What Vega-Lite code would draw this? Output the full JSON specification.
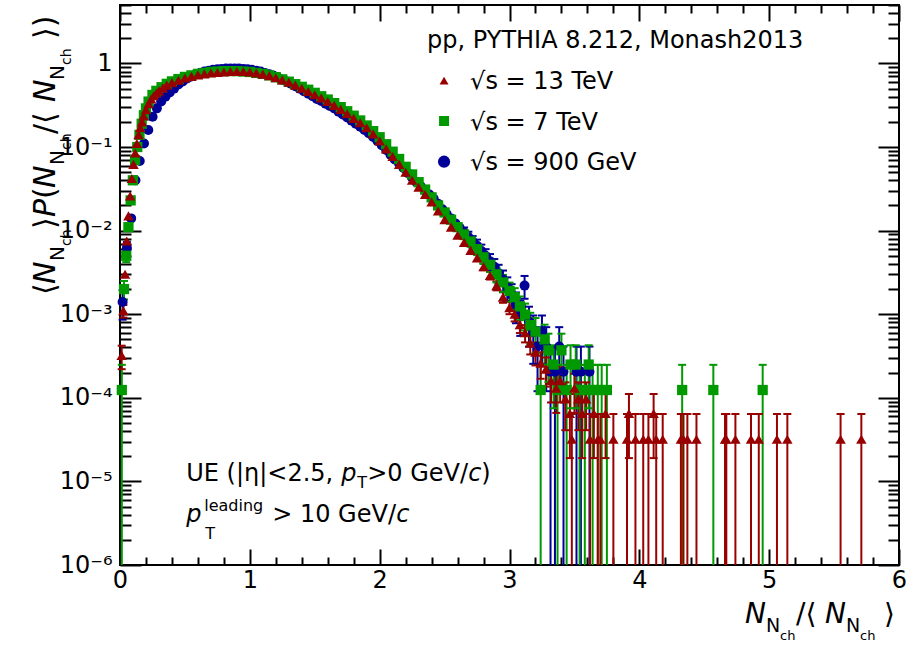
{
"$schema":"https://vega.github.io/schema/vega-lite/v6.json",
"width":779,"height":560,
"autosize":{"type":"none"},
"padding":{"left":120,"top":5,"right":10,"bottom":81},
"background":"white",
"config":{"font":"DejaVu Sans","view":{"stroke":"black","strokeWidth":2},"axis":{"domain":false,"grid":false,"tickColor":"black","labelColor":"black","tickWidth":2}},
"data":{"values":[
{"energy":"900 GeV","x":0.020,"y":1.4e-3,"lo":8.6e-4,"hi":1.94e-3},
{"energy":"900 GeV","x":0.053,"y":6.2e-3,"lo":5.1e-3,"hi":7.3e-3},
{"energy":"900 GeV","x":0.086,"y":0.014},
{"energy":"900 GeV","x":0.119,"y":0.040},
{"energy":"900 GeV","x":0.152,"y":0.068},
{"energy":"900 GeV","x":0.185,"y":0.11},
{"energy":"900 GeV","x":0.218,"y":0.16},
{"energy":"900 GeV","x":0.251,"y":0.23},
{"energy":"900 GeV","x":0.284,"y":0.29},
{"energy":"900 GeV","x":0.317,"y":0.35},
{"energy":"900 GeV","x":0.350,"y":0.40},
{"energy":"900 GeV","x":0.383,"y":0.45},
{"energy":"900 GeV","x":0.416,"y":0.50},
{"energy":"900 GeV","x":0.450,"y":0.56},
{"energy":"900 GeV","x":0.483,"y":0.61},
{"energy":"900 GeV","x":0.516,"y":0.66},
{"energy":"900 GeV","x":0.550,"y":0.70},
{"energy":"900 GeV","x":0.583,"y":0.74},
{"energy":"900 GeV","x":0.616,"y":0.77},
{"energy":"900 GeV","x":0.650,"y":0.80},
{"energy":"900 GeV","x":0.683,"y":0.82},
{"energy":"900 GeV","x":0.716,"y":0.84},
{"energy":"900 GeV","x":0.750,"y":0.85},
{"energy":"900 GeV","x":0.783,"y":0.86},
{"energy":"900 GeV","x":0.816,"y":0.87},
{"energy":"900 GeV","x":0.850,"y":0.87},
{"energy":"900 GeV","x":0.883,"y":0.87},
{"energy":"900 GeV","x":0.916,"y":0.87},
{"energy":"900 GeV","x":0.950,"y":0.86},
{"energy":"900 GeV","x":0.983,"y":0.85},
{"energy":"900 GeV","x":1.016,"y":0.84},
{"energy":"900 GeV","x":1.050,"y":0.82},
{"energy":"900 GeV","x":1.083,"y":0.80},
{"energy":"900 GeV","x":1.116,"y":0.77},
{"energy":"900 GeV","x":1.150,"y":0.74},
{"energy":"900 GeV","x":1.183,"y":0.71},
{"energy":"900 GeV","x":1.216,"y":0.68},
{"energy":"900 GeV","x":1.250,"y":0.64},
{"energy":"900 GeV","x":1.283,"y":0.61},
{"energy":"900 GeV","x":1.316,"y":0.57},
{"energy":"900 GeV","x":1.350,"y":0.535},
{"energy":"900 GeV","x":1.383,"y":0.50},
{"energy":"900 GeV","x":1.416,"y":0.465},
{"energy":"900 GeV","x":1.450,"y":0.435},
{"energy":"900 GeV","x":1.483,"y":0.405},
{"energy":"900 GeV","x":1.516,"y":0.375},
{"energy":"900 GeV","x":1.550,"y":0.355},
{"energy":"900 GeV","x":1.583,"y":0.33},
{"energy":"900 GeV","x":1.616,"y":0.31},
{"energy":"900 GeV","x":1.650,"y":0.29},
{"energy":"900 GeV","x":1.683,"y":0.265},
{"energy":"900 GeV","x":1.716,"y":0.245},
{"energy":"900 GeV","x":1.750,"y":0.225},
{"energy":"900 GeV","x":1.783,"y":0.207},
{"energy":"900 GeV","x":1.816,"y":0.19},
{"energy":"900 GeV","x":1.850,"y":0.175},
{"energy":"900 GeV","x":1.883,"y":0.16},
{"energy":"900 GeV","x":1.916,"y":0.146},
{"energy":"900 GeV","x":1.950,"y":0.132},
{"energy":"900 GeV","x":1.983,"y":0.118},
{"energy":"900 GeV","x":2.016,"y":0.105},
{"energy":"900 GeV","x":2.050,"y":0.092},
{"energy":"900 GeV","x":2.083,"y":0.081},
{"energy":"900 GeV","x":2.116,"y":0.071},
{"energy":"900 GeV","x":2.150,"y":0.063},
{"energy":"900 GeV","x":2.183,"y":0.056},
{"energy":"900 GeV","x":2.216,"y":0.049},
{"energy":"900 GeV","x":2.250,"y":0.043},
{"energy":"900 GeV","x":2.283,"y":0.038},
{"energy":"900 GeV","x":2.316,"y":0.034},
{"energy":"900 GeV","x":2.350,"y":0.030},
{"energy":"900 GeV","x":2.383,"y":0.027},
{"energy":"900 GeV","x":2.416,"y":0.024},
{"energy":"900 GeV","x":2.450,"y":0.021},
{"energy":"900 GeV","x":2.483,"y":0.018},
{"energy":"900 GeV","x":2.516,"y":0.0158},
{"energy":"900 GeV","x":2.550,"y":0.014},
{"energy":"900 GeV","x":2.583,"y":0.0122},
{"energy":"900 GeV","x":2.616,"y":0.0108},
{"energy":"900 GeV","x":2.650,"y":0.0095,"lo":0.0081,"hi":0.0109},
{"energy":"900 GeV","x":2.683,"y":0.0084,"lo":0.0071,"hi":0.0097},
{"energy":"900 GeV","x":2.716,"y":0.0074,"lo":0.0062,"hi":0.0086},
{"energy":"900 GeV","x":2.750,"y":0.0066,"lo":0.0054,"hi":0.0078},
{"energy":"900 GeV","x":2.783,"y":0.0057,"lo":0.0046,"hi":0.0068},
{"energy":"900 GeV","x":2.816,"y":0.0050,"lo":0.0040,"hi":0.0060},
{"energy":"900 GeV","x":2.850,"y":0.0043,"lo":0.00336,"hi":0.00524},
{"energy":"900 GeV","x":2.883,"y":0.0037,"lo":0.00283,"hi":0.00457},
{"energy":"900 GeV","x":2.916,"y":0.0031,"lo":0.0023,"hi":0.0039},
{"energy":"900 GeV","x":2.950,"y":0.0026,"lo":0.00187,"hi":0.00333},
{"energy":"900 GeV","x":2.983,"y":0.0021,"lo":0.00144,"hi":0.00276},
{"energy":"900 GeV","x":3.016,"y":0.0017,"lo":0.00111,"hi":0.00229},
{"energy":"900 GeV","x":3.050,"y":0.0013,"lo":0.00078,"hi":0.00182},
{"energy":"900 GeV","x":3.083,"y":0.0010,"lo":0.00055,"hi":0.00145},
{"energy":"900 GeV","x":3.116,"y":0.0022,"lo":0.00153,"hi":0.00287},
{"energy":"900 GeV","x":3.150,"y":8.2e-4,"lo":4.1e-4,"hi":1.23e-3},
{"energy":"900 GeV","x":3.183,"y":6.1e-4,"lo":2.55e-4,"hi":9.65e-4},
{"energy":"900 GeV","x":3.216,"y":4.1e-4,"lo":1.2e-4,"hi":7.0e-4},
{"energy":"900 GeV","x":3.250,"y":6.1e-4,"lo":2.55e-4,"hi":9.65e-4},
{"energy":"900 GeV","x":3.283,"y":4.1e-4,"lo":1.2e-4,"hi":7.0e-4},
{"energy":"900 GeV","x":3.316,"y":2.05e-4,"lo":1e-7,"hi":4.1e-4},
{"energy":"900 GeV","x":3.350,"y":2.05e-4,"lo":1e-7,"hi":4.1e-4},
{"energy":"900 GeV","x":3.383,"y":4.1e-4,"lo":1.2e-4,"hi":7.0e-4},
{"energy":"900 GeV","x":3.416,"y":2.05e-4,"lo":1e-7,"hi":4.1e-4},
{"energy":"900 GeV","x":3.516,"y":2.05e-4,"lo":1e-7,"hi":4.1e-4},
{"energy":"900 GeV","x":3.550,"y":2.05e-4,"lo":1e-7,"hi":4.1e-4},
{"energy":"900 GeV","x":3.616,"y":2.05e-4,"lo":1e-7,"hi":4.1e-4},
{"energy":"7 TeV","x":0.014,"y":1.24e-4,"lo":1e-7,"hi":2.48e-4},
{"energy":"7 TeV","x":0.031,"y":2.0e-3,"lo":1.5e-3,"hi":2.5e-3},
{"energy":"7 TeV","x":0.048,"y":5.0e-3,"lo":4.2e-3,"hi":5.8e-3},
{"energy":"7 TeV","x":0.065,"y":0.011},
{"energy":"7 TeV","x":0.082,"y":0.023},
{"energy":"7 TeV","x":0.099,"y":0.040},
{"energy":"7 TeV","x":0.116,"y":0.070},
{"energy":"7 TeV","x":0.133,"y":0.10},
{"energy":"7 TeV","x":0.150,"y":0.14},
{"energy":"7 TeV","x":0.167,"y":0.19},
{"energy":"7 TeV","x":0.184,"y":0.24},
{"energy":"7 TeV","x":0.20,"y":0.29},
{"energy":"7 TeV","x":0.22,"y":0.35},
{"energy":"7 TeV","x":0.25,"y":0.42},
{"energy":"7 TeV","x":0.28,"y":0.47},
{"energy":"7 TeV","x":0.32,"y":0.52},
{"energy":"7 TeV","x":0.36,"y":0.57},
{"energy":"7 TeV","x":0.40,"y":0.61},
{"energy":"7 TeV","x":0.45,"y":0.65},
{"energy":"7 TeV","x":0.50,"y":0.69},
{"energy":"7 TeV","x":0.55,"y":0.72},
{"energy":"7 TeV","x":0.60,"y":0.75},
{"energy":"7 TeV","x":0.65,"y":0.77},
{"energy":"7 TeV","x":0.70,"y":0.79},
{"energy":"7 TeV","x":0.75,"y":0.80},
{"energy":"7 TeV","x":0.80,"y":0.81},
{"energy":"7 TeV","x":0.85,"y":0.81},
{"energy":"7 TeV","x":0.90,"y":0.81},
{"energy":"7 TeV","x":0.95,"y":0.80},
{"energy":"7 TeV","x":1.00,"y":0.79},
{"energy":"7 TeV","x":1.05,"y":0.77},
{"energy":"7 TeV","x":1.10,"y":0.75},
{"energy":"7 TeV","x":1.15,"y":0.72},
{"energy":"7 TeV","x":1.20,"y":0.685},
{"energy":"7 TeV","x":1.25,"y":0.645},
{"energy":"7 TeV","x":1.30,"y":0.605},
{"energy":"7 TeV","x":1.35,"y":0.565},
{"energy":"7 TeV","x":1.40,"y":0.525},
{"energy":"7 TeV","x":1.45,"y":0.485},
{"energy":"7 TeV","x":1.50,"y":0.445},
{"energy":"7 TeV","x":1.55,"y":0.405},
{"energy":"7 TeV","x":1.60,"y":0.37},
{"energy":"7 TeV","x":1.65,"y":0.335},
{"energy":"7 TeV","x":1.70,"y":0.30},
{"energy":"7 TeV","x":1.75,"y":0.268},
{"energy":"7 TeV","x":1.80,"y":0.237},
{"energy":"7 TeV","x":1.85,"y":0.208},
{"energy":"7 TeV","x":1.90,"y":0.181},
{"energy":"7 TeV","x":1.95,"y":0.155},
{"energy":"7 TeV","x":2.00,"y":0.131},
{"energy":"7 TeV","x":2.05,"y":0.108},
{"energy":"7 TeV","x":2.10,"y":0.088},
{"energy":"7 TeV","x":2.15,"y":0.072},
{"energy":"7 TeV","x":2.20,"y":0.058},
{"energy":"7 TeV","x":2.25,"y":0.047},
{"energy":"7 TeV","x":2.30,"y":0.038},
{"energy":"7 TeV","x":2.35,"y":0.031},
{"energy":"7 TeV","x":2.40,"y":0.025},
{"energy":"7 TeV","x":2.45,"y":0.020},
{"energy":"7 TeV","x":2.50,"y":0.0165},
{"energy":"7 TeV","x":2.55,"y":0.0135},
{"energy":"7 TeV","x":2.60,"y":0.011},
{"energy":"7 TeV","x":2.65,"y":0.009,"lo":0.0079,"hi":0.0101},
{"energy":"7 TeV","x":2.70,"y":0.0074,"lo":0.0064,"hi":0.0084},
{"energy":"7 TeV","x":2.75,"y":0.0060,"lo":0.0051,"hi":0.0069},
{"energy":"7 TeV","x":2.80,"y":0.0048,"lo":0.0040,"hi":0.0056},
{"energy":"7 TeV","x":2.85,"y":0.0039,"lo":0.0032,"hi":0.0046},
{"energy":"7 TeV","x":2.90,"y":0.0030,"lo":0.0024,"hi":0.0036},
{"energy":"7 TeV","x":2.95,"y":0.0024,"lo":0.00185,"hi":0.00295},
{"energy":"7 TeV","x":3.00,"y":0.0019,"lo":0.00141,"hi":0.00239},
{"energy":"7 TeV","x":3.04,"y":0.0016,"lo":0.00115,"hi":0.00205},
{"energy":"7 TeV","x":3.08,"y":0.00124,"lo":0.00085,"hi":0.00163},
{"energy":"7 TeV","x":3.12,"y":0.00099,"lo":0.00064,"hi":0.00134},
{"energy":"7 TeV","x":3.16,"y":7.4e-4,"lo":4.4e-4,"hi":1.04e-3},
{"energy":"7 TeV","x":3.20,"y":6.2e-4,"lo":3.4e-4,"hi":9.0e-4},
{"energy":"7 TeV","x":3.24,"y":1.24e-4,"lo":1e-7,"hi":2.48e-4},
{"energy":"7 TeV","x":3.27,"y":5.0e-4,"lo":2.5e-4,"hi":7.5e-4},
{"energy":"7 TeV","x":3.30,"y":3.7e-4,"lo":1.55e-4,"hi":5.85e-4},
{"energy":"7 TeV","x":3.34,"y":2.5e-4,"lo":7.5e-5,"hi":4.25e-4},
{"energy":"7 TeV","x":3.37,"y":1.24e-4,"lo":1e-7,"hi":2.48e-4},
{"energy":"7 TeV","x":3.40,"y":3.7e-4,"lo":1.55e-4,"hi":5.85e-4},
{"energy":"7 TeV","x":3.44,"y":1.24e-4,"lo":1e-7,"hi":2.48e-4},
{"energy":"7 TeV","x":3.47,"y":2.5e-4,"lo":7.5e-5,"hi":4.25e-4},
{"energy":"7 TeV","x":3.51,"y":2.5e-4,"lo":7.5e-5,"hi":4.25e-4},
{"energy":"7 TeV","x":3.54,"y":1.24e-4,"lo":1e-7,"hi":2.48e-4},
{"energy":"7 TeV","x":3.58,"y":1.24e-4,"lo":1e-7,"hi":2.48e-4},
{"energy":"7 TeV","x":3.61,"y":2.5e-4,"lo":7.5e-5,"hi":4.25e-4},
{"energy":"7 TeV","x":3.64,"y":1.24e-4,"lo":1e-7,"hi":2.48e-4},
{"energy":"7 TeV","x":3.68,"y":1.24e-4,"lo":1e-7,"hi":2.48e-4},
{"energy":"7 TeV","x":3.71,"y":1.24e-4,"lo":1e-7,"hi":2.48e-4},
{"energy":"7 TeV","x":3.75,"y":1.24e-4,"lo":1e-7,"hi":2.48e-4},
{"energy":"7 TeV","x":4.33,"y":1.24e-4,"lo":1e-7,"hi":2.48e-4},
{"energy":"7 TeV","x":4.57,"y":1.24e-4,"lo":1e-7,"hi":2.48e-4},
{"energy":"7 TeV","x":4.95,"y":1.24e-4,"lo":1e-7,"hi":2.48e-4},
{"energy":"13 TeV","x":0.013,"y":3.2e-4,"lo":2.2e-4,"hi":4.2e-4},
{"energy":"13 TeV","x":0.026,"y":1.1e-3,"lo":9.1e-4,"hi":1.29e-3},
{"energy":"13 TeV","x":0.039,"y":3.0e-3},
{"energy":"13 TeV","x":0.052,"y":7.5e-3},
{"energy":"13 TeV","x":0.065,"y":0.015},
{"energy":"13 TeV","x":0.078,"y":0.026},
{"energy":"13 TeV","x":0.091,"y":0.042},
{"energy":"13 TeV","x":0.104,"y":0.062},
{"energy":"13 TeV","x":0.117,"y":0.085},
{"energy":"13 TeV","x":0.130,"y":0.11},
{"energy":"13 TeV","x":0.143,"y":0.14},
{"energy":"13 TeV","x":0.156,"y":0.17},
{"energy":"13 TeV","x":0.169,"y":0.20},
{"energy":"13 TeV","x":0.182,"y":0.235},
{"energy":"13 TeV","x":0.20,"y":0.28},
{"energy":"13 TeV","x":0.22,"y":0.33},
{"energy":"13 TeV","x":0.24,"y":0.375},
{"energy":"13 TeV","x":0.26,"y":0.41},
{"energy":"13 TeV","x":0.28,"y":0.44},
{"energy":"13 TeV","x":0.30,"y":0.47},
{"energy":"13 TeV","x":0.33,"y":0.51},
{"energy":"13 TeV","x":0.36,"y":0.55},
{"energy":"13 TeV","x":0.40,"y":0.59},
{"energy":"13 TeV","x":0.45,"y":0.63},
{"energy":"13 TeV","x":0.50,"y":0.67},
{"energy":"13 TeV","x":0.55,"y":0.70},
{"energy":"13 TeV","x":0.60,"y":0.73},
{"energy":"13 TeV","x":0.65,"y":0.75},
{"energy":"13 TeV","x":0.70,"y":0.77},
{"energy":"13 TeV","x":0.75,"y":0.78},
{"energy":"13 TeV","x":0.80,"y":0.79},
{"energy":"13 TeV","x":0.85,"y":0.80},
{"energy":"13 TeV","x":0.90,"y":0.80},
{"energy":"13 TeV","x":0.95,"y":0.80},
{"energy":"13 TeV","x":1.00,"y":0.79},
{"energy":"13 TeV","x":1.05,"y":0.77},
{"energy":"13 TeV","x":1.10,"y":0.745},
{"energy":"13 TeV","x":1.15,"y":0.715},
{"energy":"13 TeV","x":1.20,"y":0.675},
{"energy":"13 TeV","x":1.25,"y":0.635},
{"energy":"13 TeV","x":1.30,"y":0.595},
{"energy":"13 TeV","x":1.35,"y":0.55},
{"energy":"13 TeV","x":1.40,"y":0.505},
{"energy":"13 TeV","x":1.45,"y":0.462},
{"energy":"13 TeV","x":1.50,"y":0.422},
{"energy":"13 TeV","x":1.55,"y":0.385},
{"energy":"13 TeV","x":1.60,"y":0.35},
{"energy":"13 TeV","x":1.65,"y":0.315},
{"energy":"13 TeV","x":1.70,"y":0.282},
{"energy":"13 TeV","x":1.75,"y":0.25},
{"energy":"13 TeV","x":1.80,"y":0.22},
{"energy":"13 TeV","x":1.85,"y":0.195},
{"energy":"13 TeV","x":1.90,"y":0.17},
{"energy":"13 TeV","x":1.95,"y":0.143},
{"energy":"13 TeV","x":2.00,"y":0.118},
{"energy":"13 TeV","x":2.05,"y":0.095},
{"energy":"13 TeV","x":2.10,"y":0.077},
{"energy":"13 TeV","x":2.15,"y":0.062},
{"energy":"13 TeV","x":2.20,"y":0.050},
{"energy":"13 TeV","x":2.25,"y":0.040},
{"energy":"13 TeV","x":2.30,"y":0.033},
{"energy":"13 TeV","x":2.35,"y":0.027},
{"energy":"13 TeV","x":2.40,"y":0.022},
{"energy":"13 TeV","x":2.45,"y":0.0172},
{"energy":"13 TeV","x":2.50,"y":0.0135},
{"energy":"13 TeV","x":2.55,"y":0.011},
{"energy":"13 TeV","x":2.60,"y":0.0088},
{"energy":"13 TeV","x":2.65,"y":0.0072},
{"energy":"13 TeV","x":2.70,"y":0.0058},
{"energy":"13 TeV","x":2.75,"y":0.0047},
{"energy":"13 TeV","x":2.80,"y":0.0037,"lo":0.00336,"hi":0.00404},
{"energy":"13 TeV","x":2.85,"y":0.0029,"lo":0.0026,"hi":0.0032},
{"energy":"13 TeV","x":2.90,"y":0.0022,"lo":0.00193,"hi":0.00247},
{"energy":"13 TeV","x":2.95,"y":0.0016,"lo":0.00137,"hi":0.00183},
{"energy":"13 TeV","x":3.00,"y":0.0012,"lo":0.0010,"hi":0.0014},
{"energy":"13 TeV","x":3.04,"y":0.0010,"lo":0.00082,"hi":0.00118},
{"energy":"13 TeV","x":3.08,"y":7.5e-4,"lo":5.95e-4,"hi":9.05e-4},
{"energy":"13 TeV","x":3.12,"y":6.0e-4,"lo":4.6e-4,"hi":7.4e-4},
{"energy":"13 TeV","x":3.16,"y":4.5e-4,"lo":3.3e-4,"hi":5.7e-4},
{"energy":"13 TeV","x":3.20,"y":3.5e-4,"lo":2.44e-4,"hi":4.56e-4},
{"energy":"13 TeV","x":3.24,"y":2.6e-4,"lo":1.69e-4,"hi":3.51e-4},
{"energy":"13 TeV","x":3.28,"y":2.2e-4,"lo":1.36e-4,"hi":3.04e-4},
{"energy":"13 TeV","x":3.32,"y":1.6e-4,"lo":8.8e-5,"hi":2.32e-4},
{"energy":"13 TeV","x":3.36,"y":1.3e-4,"lo":6.6e-5,"hi":1.94e-4},
{"energy":"13 TeV","x":3.39,"y":1.6e-4,"lo":8.8e-5,"hi":2.32e-4},
{"energy":"13 TeV","x":3.43,"y":9.7e-5,"lo":4.1e-5,"hi":1.53e-4},
{"energy":"13 TeV","x":3.465,"y":6.5e-5,"lo":1.9e-5,"hi":1.11e-4},
{"energy":"13 TeV","x":3.48,"y":3.2e-5,"lo":1e-7,"hi":6.4e-5},
{"energy":"13 TeV","x":3.50,"y":1.3e-4,"lo":6.6e-5,"hi":1.94e-4},
{"energy":"13 TeV","x":3.53,"y":9.7e-5,"lo":4.1e-5,"hi":1.53e-4},
{"energy":"13 TeV","x":3.56,"y":6.5e-5,"lo":1.9e-5,"hi":1.11e-4},
{"energy":"13 TeV","x":3.59,"y":9.7e-5,"lo":4.1e-5,"hi":1.53e-4},
{"energy":"13 TeV","x":3.62,"y":3.2e-5,"lo":1e-7,"hi":6.4e-5},
{"energy":"13 TeV","x":3.65,"y":6.5e-5,"lo":1.9e-5,"hi":1.11e-4},
{"energy":"13 TeV","x":3.68,"y":3.2e-5,"lo":1e-7,"hi":6.4e-5},
{"energy":"13 TeV","x":3.70,"y":3.2e-5,"lo":1e-7,"hi":6.4e-5},
{"energy":"13 TeV","x":3.74,"y":6.5e-5,"lo":1.9e-5,"hi":1.11e-4},
{"energy":"13 TeV","x":3.80,"y":3.2e-5,"lo":1e-7,"hi":6.4e-5},
{"energy":"13 TeV","x":3.905,"y":3.2e-5,"lo":1e-7,"hi":6.4e-5},
{"energy":"13 TeV","x":3.92,"y":6.5e-5,"lo":1.9e-5,"hi":1.11e-4},
{"energy":"13 TeV","x":3.97,"y":3.2e-5,"lo":1e-7,"hi":6.4e-5},
{"energy":"13 TeV","x":4.03,"y":3.2e-5,"lo":1e-7,"hi":6.4e-5},
{"energy":"13 TeV","x":4.07,"y":3.2e-5,"lo":1e-7,"hi":6.4e-5},
{"energy":"13 TeV","x":4.11,"y":6.5e-5,"lo":1.9e-5,"hi":1.11e-4},
{"energy":"13 TeV","x":4.13,"y":3.2e-5,"lo":1e-7,"hi":6.4e-5},
{"energy":"13 TeV","x":4.18,"y":3.2e-5,"lo":1e-7,"hi":6.4e-5},
{"energy":"13 TeV","x":4.32,"y":3.2e-5,"lo":1e-7,"hi":6.4e-5},
{"energy":"13 TeV","x":4.34,"y":3.2e-5,"lo":1e-7,"hi":6.4e-5},
{"energy":"13 TeV","x":4.37,"y":3.2e-5,"lo":1e-7,"hi":6.4e-5},
{"energy":"13 TeV","x":4.44,"y":3.2e-5,"lo":1e-7,"hi":6.4e-5},
{"energy":"13 TeV","x":4.66,"y":3.2e-5,"lo":1e-7,"hi":6.4e-5},
{"energy":"13 TeV","x":4.67,"y":3.2e-5,"lo":1e-7,"hi":6.4e-5},
{"energy":"13 TeV","x":4.74,"y":3.2e-5,"lo":1e-7,"hi":6.4e-5},
{"energy":"13 TeV","x":4.86,"y":3.2e-5,"lo":1e-7,"hi":6.4e-5},
{"energy":"13 TeV","x":4.92,"y":3.2e-5,"lo":1e-7,"hi":6.4e-5},
{"energy":"13 TeV","x":5.06,"y":3.2e-5,"lo":1e-7,"hi":6.4e-5},
{"energy":"13 TeV","x":5.14,"y":3.2e-5,"lo":1e-7,"hi":6.4e-5},
{"energy":"13 TeV","x":5.55,"y":3.2e-5,"lo":1e-7,"hi":6.4e-5},
{"energy":"13 TeV","x":5.71,"y":3.2e-5,"lo":1e-7,"hi":6.4e-5}
]},
"resolve":{"axis":{"x":"independent","y":"independent"}},
"layer":[
{"transform":[{"filter":"isValid(datum.hi)"}],
 "mark":{"type":"rule","strokeWidth":2},
 "encoding":{
  "x":{"field":"x","type":"quantitative","scale":{"domain":[0,6],"nice":false,"zero":false},
       "axis":{"orient":"bottom","values":[0,1,2,3,4,5,6],"format":"d","tickSize":-16,"labelFontSize":24,"labelFont":"DejaVu Sans","labelPadding":19,"labelFlush":false,"labelOverlap":false,"labelBound":false,"title":null}},
  "y":{"field":"hi","type":"quantitative","scale":{"type":"log","domain":[1e-6,5],"nice":false,"clamp":true},
       "axis":{"orient":"left","values":[1e-6,1e-5,1e-4,1e-3,0.01,0.1,1],"tickSize":-21,"labelFontSize":24,"labelFont":"DejaVu Sans","labelPadding":29,"labelFlush":false,"labelOverlap":false,"labelBound":false,"title":null,
       "labelExpr":"datum.value > 0.5 ? '1' : datum.value > 0.05 ? '10⁻¹' : datum.value > 0.005 ? '10⁻²' : datum.value > 0.0005 ? '10⁻³' : datum.value > 0.00005 ? '10⁻⁴' : datum.value > 0.000005 ? '10⁻⁵' : '10⁻⁶'"}},
  "y2":{"field":"lo"},
  "stroke":{"field":"energy","type":"nominal","legend":null,"scale":{"domain":["13 TeV","7 TeV","900 GeV"],"range":["#990000","#009900","#000099"]}}
 }},
{"transform":[{"filter":"isValid(datum.hi)"}],
 "mark":{"type":"point","shape":"stroke","size":64,"strokeWidth":2,"filled":false,"opacity":1},
 "encoding":{
  "x":{"field":"x","type":"quantitative",
       "axis":{"orient":"bottom","values":[0.2,0.4,0.6,0.8,1.2,1.4,1.6,1.8,2.2,2.4,2.6,2.8,3.2,3.4,3.6,3.8,4.2,4.4,4.6,4.8,5.2,5.4,5.6,5.8],"tickSize":-8,"labels":false,"title":null}},
  "y":{"field":"hi","type":"quantitative",
       "axis":{"orient":"left","values":[2e-6,3e-6,4e-6,5e-6,6e-6,7e-6,8e-6,9e-6,2e-5,3e-5,4e-5,5e-5,6e-5,7e-5,8e-5,9e-5,2e-4,3e-4,4e-4,5e-4,6e-4,7e-4,8e-4,9e-4,0.002,0.003,0.004,0.005,0.006,0.007,0.008,0.009,0.02,0.03,0.04,0.05,0.06,0.07,0.08,0.09,0.2,0.3,0.4,0.5,0.6,0.7,0.8,0.9,2,3,4,5],"tickSize":-11,"labels":false,"title":null}},
  "stroke":{"field":"energy","type":"nominal","legend":null}
 }},
{"transform":[{"filter":"isValid(datum.lo) && datum.lo > 1e-6"}],
 "mark":{"type":"point","shape":"stroke","size":64,"strokeWidth":2,"filled":false,"opacity":1},
 "encoding":{
  "x":{"field":"x","type":"quantitative",
       "axis":{"orient":"top","values":[0,1,2,3,4,5,6],"tickSize":-16,"labels":false,"title":null}},
  "y":{"field":"lo","type":"quantitative",
       "axis":{"orient":"right","values":[1e-6,1e-5,1e-4,1e-3,0.01,0.1,1],"tickSize":-21,"labels":false,"title":null}},
  "stroke":{"field":"energy","type":"nominal","legend":null}
 }},
{"mark":{"type":"point","filled":true,"opacity":1},
 "encoding":{
  "x":{"field":"x","type":"quantitative",
       "axis":{"orient":"top","values":[0.2,0.4,0.6,0.8,1.2,1.4,1.6,1.8,2.2,2.4,2.6,2.8,3.2,3.4,3.6,3.8,4.2,4.4,4.6,4.8,5.2,5.4,5.6,5.8],"tickSize":-8,"labels":false,"title":null}},
  "y":{"field":"y","type":"quantitative",
       "axis":{"orient":"right","values":[2e-6,3e-6,4e-6,5e-6,6e-6,7e-6,8e-6,9e-6,2e-5,3e-5,4e-5,5e-5,6e-5,7e-5,8e-5,9e-5,2e-4,3e-4,4e-4,5e-4,6e-4,7e-4,8e-4,9e-4,0.002,0.003,0.004,0.005,0.006,0.007,0.008,0.009,0.02,0.03,0.04,0.05,0.06,0.07,0.08,0.09,0.2,0.3,0.4,0.5,0.6,0.7,0.8,0.9,2,3,4,5],"tickSize":-11,"labels":false,"title":null}},
  "color":{"field":"energy","type":"nominal","legend":null,"scale":{"domain":["13 TeV","7 TeV","900 GeV"],"range":["#990000","#009900","#000099"]}},
  "shape":{"field":"energy","type":"nominal","legend":null,"scale":{"domain":["13 TeV","7 TeV","900 GeV"],"range":["triangle-up","square","circle"]}},
  "size":{"field":"energy","type":"nominal","legend":null,"scale":{"domain":["13 TeV","7 TeV","900 GeV"],"range":[110,100,160]}}
 }},
{"data":{"values":[{}]},
 "layer":[
  {"encoding":{"x":{"datum":2.365,"type":"quantitative","axis":null},"y":{"datum":1.528,"type":"quantitative","axis":null}},
   "mark":{"type":"text","align":"left","baseline":"alphabetic","fontSize":24,"text":"pp, PYTHIA 8.212, Monash2013"}},
  {"encoding":{"x":{"datum":2.496,"type":"quantitative","axis":null},"y":{"datum":0.621,"type":"quantitative","axis":null}},
   "mark":{"type":"point","shape":"triangle-up","filled":true,"color":"#990000","size":80,"opacity":1}},
  {"encoding":{"x":{"datum":2.496,"type":"quantitative","axis":null},"y":{"datum":0.2047,"type":"quantitative","axis":null}},
   "mark":{"type":"point","shape":"square","filled":true,"color":"#009900","size":100,"opacity":1}},
  {"encoding":{"x":{"datum":2.496,"type":"quantitative","axis":null},"y":{"datum":0.0667,"type":"quantitative","axis":null}},
   "mark":{"type":"point","shape":"circle","filled":true,"color":"#000099","size":150,"opacity":1}},
  {"encoding":{"x":{"datum":2.6965,"type":"quantitative","axis":null},"y":{"datum":0.621,"type":"quantitative","axis":null}},
   "mark":{"type":"text","align":"left","baseline":"alphabetic","fontSize":24,"dy":8.5,"text":"√s = 13 TeV"}},
  {"encoding":{"x":{"datum":2.6965,"type":"quantitative","axis":null},"y":{"datum":0.2047,"type":"quantitative","axis":null}},
   "mark":{"type":"text","align":"left","baseline":"alphabetic","fontSize":24,"dy":8.5,"text":"√s = 7 TeV"}},
  {"encoding":{"x":{"datum":2.6965,"type":"quantitative","axis":null},"y":{"datum":0.0667,"type":"quantitative","axis":null}},
   "mark":{"type":"text","align":"left","baseline":"alphabetic","fontSize":24,"dy":8.5,"text":"√s = 900 GeV"}},
  {"encoding":{"x":{"datum":0.51,"type":"quantitative","axis":null},"y":{"datum":1e-5,"type":"quantitative","axis":null}},
   "layer":[
    {"mark":{"type":"text","align":"left","baseline":"alphabetic","fontSize":24,"text":"UE (|η|<2.5,","dx":0,"dy":0}},
    {"mark":{"type":"text","align":"left","baseline":"alphabetic","fontSize":24,"fontStyle":"italic","text":"p","dx":155,"dy":0}},
    {"mark":{"type":"text","align":"left","baseline":"alphabetic","fontSize":16,"text":"T","dx":171,"dy":7}},
    {"mark":{"type":"text","align":"left","baseline":"alphabetic","fontSize":24,"text":">0 GeV/","dx":181,"dy":0}},
    {"mark":{"type":"text","align":"left","baseline":"alphabetic","fontSize":24,"fontStyle":"italic","text":"c","dx":282,"dy":0}},
    {"mark":{"type":"text","align":"left","baseline":"alphabetic","fontSize":24,"text":")","dx":295,"dy":0}},
    {"mark":{"type":"text","align":"left","baseline":"alphabetic","fontSize":24,"fontStyle":"italic","text":"p","dx":0,"dy":41}},
    {"mark":{"type":"text","align":"left","baseline":"alphabetic","fontSize":16,"text":"leading","dx":18,"dy":30}},
    {"mark":{"type":"text","align":"left","baseline":"alphabetic","fontSize":16,"text":"T","dx":19,"dy":58}},
    {"mark":{"type":"text","align":"left","baseline":"alphabetic","fontSize":24,"text":"> 10 GeV/","dx":86,"dy":41}},
    {"mark":{"type":"text","align":"left","baseline":"alphabetic","fontSize":24,"fontStyle":"italic","text":"c","dx":210,"dy":41}}
   ]},
  {"encoding":{"x":{"datum":6,"type":"quantitative","axis":null},"y":{"datum":1e-6,"type":"quantitative","axis":null}},
   "layer":[
    {"mark":{"type":"text","align":"left","baseline":"alphabetic","fontSize":28,"fontStyle":"italic","text":"N","dx":-154,"dy":58}},
    {"mark":{"type":"text","align":"left","baseline":"alphabetic","fontSize":19,"text":"N","dx":-133,"dy":67}},
    {"mark":{"type":"text","align":"left","baseline":"alphabetic","fontSize":13,"text":"ch","dx":-119,"dy":75}},
    {"mark":{"type":"text","align":"left","baseline":"alphabetic","fontSize":28,"text":"/⟨","dx":-103,"dy":58}},
    {"mark":{"type":"text","align":"left","baseline":"alphabetic","fontSize":28,"fontStyle":"italic","text":"N","dx":-74,"dy":58}},
    {"mark":{"type":"text","align":"left","baseline":"alphabetic","fontSize":19,"text":"N","dx":-53,"dy":67}},
    {"mark":{"type":"text","align":"left","baseline":"alphabetic","fontSize":13,"text":"ch","dx":-39,"dy":75}},
    {"mark":{"type":"text","align":"left","baseline":"alphabetic","fontSize":28,"text":"⟩","dx":-15,"dy":58}}
   ]},
  {"encoding":{"x":{"datum":0,"type":"quantitative","axis":null},"y":{"datum":1e-6,"type":"quantitative","axis":null}},
   "layer":[
    {"mark":{"type":"text","align":"left","baseline":"alphabetic","angle":270,"fontSize":30,"text":"⟨","dx":270,"dy":-65}},
    {"mark":{"type":"text","align":"left","baseline":"alphabetic","angle":270,"fontSize":30,"fontStyle":"italic","text":"N","dx":281,"dy":-65}},
    {"mark":{"type":"text","align":"left","baseline":"alphabetic","angle":270,"fontSize":20,"text":"N","dx":304,"dy":-56}},
    {"mark":{"type":"text","align":"left","baseline":"alphabetic","angle":270,"fontSize":14,"text":"ch","dx":319,"dy":-49}},
    {"mark":{"type":"text","align":"left","baseline":"alphabetic","angle":270,"fontSize":30,"text":"⟩","dx":336,"dy":-65}},
    {"mark":{"type":"text","align":"left","baseline":"alphabetic","angle":270,"fontSize":30,"fontStyle":"italic","text":"P","dx":348,"dy":-65}},
    {"mark":{"type":"text","align":"left","baseline":"alphabetic","angle":270,"fontSize":30,"text":"(","dx":366,"dy":-65}},
    {"mark":{"type":"text","align":"left","baseline":"alphabetic","angle":270,"fontSize":30,"fontStyle":"italic","text":"N","dx":377,"dy":-65}},
    {"mark":{"type":"text","align":"left","baseline":"alphabetic","angle":270,"fontSize":20,"text":"N","dx":400,"dy":-56}},
    {"mark":{"type":"text","align":"left","baseline":"alphabetic","angle":270,"fontSize":14,"text":"ch","dx":415,"dy":-49}},
    {"mark":{"type":"text","align":"left","baseline":"alphabetic","angle":270,"fontSize":30,"text":"/⟨","dx":431,"dy":-65}},
    {"mark":{"type":"text","align":"left","baseline":"alphabetic","angle":270,"fontSize":30,"fontStyle":"italic","text":"N","dx":463,"dy":-65}},
    {"mark":{"type":"text","align":"left","baseline":"alphabetic","angle":270,"fontSize":20,"text":"N","dx":485,"dy":-56}},
    {"mark":{"type":"text","align":"left","baseline":"alphabetic","angle":270,"fontSize":14,"text":"ch","dx":500,"dy":-49}},
    {"mark":{"type":"text","align":"left","baseline":"alphabetic","angle":270,"fontSize":30,"text":"⟩)","dx":526,"dy":-65}}
   ]}
 ]}
]
}
